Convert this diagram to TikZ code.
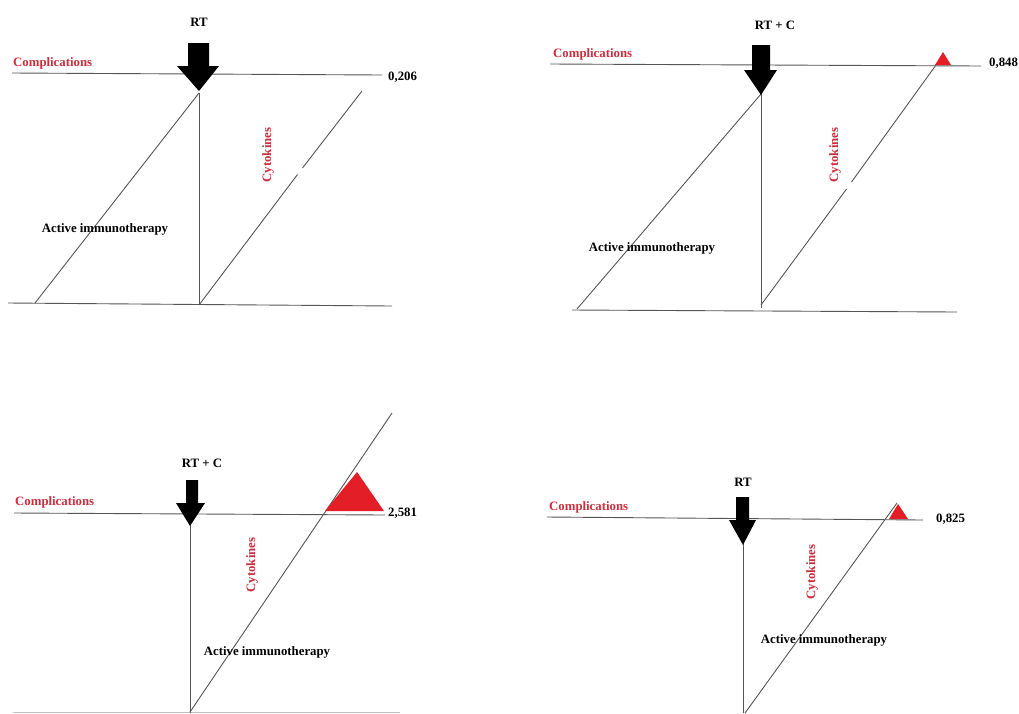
\documentclass[tikz,border=0pt]{standalone}
\usepackage{fontspec}
\setmainfont{Liberation Serif}
\definecolor{cred}{RGB}{205,45,60}
\definecolor{tred}{RGB}{228,30,38}
\definecolor{lgray}{RGB}{85,85,85}
\begin{document}
\begin{tikzpicture}[x=1pt,y=-1pt,
  ln/.style={draw=lgray,line width=0.9pt},
  lbl/.style={font=\fontsize{12.8}{14}\selectfont\bfseries,inner sep=0pt},
  redlbl/.style={lbl,text=cred},
  tri/.style={fill=tred,draw=none},
  bigarrow/.style={fill=black,draw=none}]
\useasboundingbox (0,0) rectangle (1019,713);

% ---------------- Panel 1 (top left) ----------------
\coordinate (t1l) at (12,73);
\coordinate (t1r) at (382,75);
\coordinate (v1t) at (199,93);
\coordinate (v1b) at (199,305);
\coordinate (b1l) at (8,303);
\coordinate (b1r) at (392,306);
\coordinate (d1a) at (35,303);
\coordinate (d2a) at (362,91);
\coordinate (g1u) at (302.5,168);
\coordinate (g1l) at (297.5,174.5);
\draw[ln] (t1l) -- (t1r);
\draw[ln] (b1l) -- (b1r);
\draw[ln] (v1t) -- (v1b);
\draw[ln] (d1a) -- (v1t);
\draw[ln] (v1b) -- (g1l);
\draw[ln] (g1u) -- (d2a);
\fill[bigarrow] (188,43) -- (209,43) -- (209,66) -- (219,66) -- (199,91) -- (177,66) -- (188,66) -- cycle;
\node[lbl] (rt1) at (199,22) {RT};
\node[redlbl,anchor=west] (comp1) at (13,63) {Complications};
\node[lbl,anchor=west] (val1) at (388,77) {0,206};
\node[redlbl,rotate=90] (cyt1) at (268,155) {Cytokines};
\node[lbl] (act1) at (105,229) {Active immunotherapy};

% ---------------- Panel 2 (top right) ----------------
\coordinate (t2l) at (550,64);
\coordinate (t2r) at (981,66);
\coordinate (v2t) at (761,94);
\coordinate (v2b) at (761,308);
\coordinate (b2l) at (572,310);
\coordinate (b2r) at (957,312);
\coordinate (d3a) at (577,309);
\coordinate (d4a) at (936,65);
\coordinate (g2u) at (851.5,182);
\coordinate (g2l) at (846.5,189);
\draw[ln] (t2l) -- (t2r);
\draw[ln] (b2l) -- (b2r);
\draw[ln] (v2t) -- (v2b);
\draw[ln] (d3a) -- (v2t);
\draw[ln] (761,305) -- (g2l);
\draw[ln] (g2u) -- (d4a);
\fill[bigarrow] (752,45) -- (770,45) -- (770,70) -- (777,70) -- (761,95) -- (744,70) -- (752,70) -- cycle;
\fill[tri] (943,52) -- (951,65) -- (935,65) -- cycle;
\node[lbl] (rt2) at (775,25) {RT + C};
\node[redlbl,anchor=west] (comp2) at (553,54) {Complications};
\node[lbl,anchor=west] (val2) at (989,63) {0,848};
\node[redlbl,rotate=90] (cyt2) at (835,155) {Cytokines};
\node[lbl] (act2) at (652,248) {Active immunotherapy};

% ---------------- Panel 3 (bottom left) ----------------
\coordinate (t3l) at (14,513);
\coordinate (t3r) at (385,515);
\coordinate (v3t) at (190,525);
\coordinate (v3b) at (190,713);
\coordinate (d5a) at (190,712);
\coordinate (d5b) at (392,413);
\coordinate (b3l) at (13,712);
\coordinate (b3r) at (400,712);
\draw[ln] (t3l) -- (t3r);
\draw[ln,draw=lgray!35] (b3l) -- (b3r);
\draw[ln] (v3t) -- (v3b);
\draw[ln] (d5a) -- (d5b);
\fill[tri] (357,472) -- (384,511) -- (325,511) -- cycle;
\fill[bigarrow] (186,480) -- (198,480) -- (198,503) -- (205,503) -- (190,526) -- (176,503) -- (186,503) -- cycle;
\node[lbl] (rt3) at (202,463) {RT + C};
\node[redlbl,anchor=west] (comp3) at (15,502) {Complications};
\node[lbl,anchor=west] (val3) at (388,513) {2,581};
\node[redlbl,rotate=90] (cyt3) at (252,565) {Cytokines};
\node[lbl] (act3) at (267,652) {Active immunotherapy};

% ---------------- Panel 4 (bottom right) ----------------
\coordinate (t4l) at (547,517);
\coordinate (t4r) at (923,520);
\coordinate (v4t) at (743,544);
\coordinate (v4b) at (743,713);
\coordinate (d6a) at (745,713);
\coordinate (d6b) at (897,503);
\draw[ln] (t4l) -- (t4r);
\draw[ln] (v4t) -- (v4b);
\draw[ln] (d6a) -- (d6b);
\fill[tri] (898,504) -- (908,519) -- (889,519) -- cycle;
\fill[bigarrow] (736,497) -- (749,497) -- (749,520) -- (756,520) -- (743,545) -- (729,520) -- (736,520) -- cycle;
\node[lbl] (rt4) at (743,482) {RT};
\node[redlbl,anchor=west] (comp4) at (549,507) {Complications};
\node[lbl,anchor=west] (val4) at (936,519) {0,825};
\node[redlbl,rotate=90] (cyt4) at (812,572) {Cytokines};
\node[lbl] (act4) at (824,640) {Active immunotherapy};
\end{tikzpicture}
\end{document}
